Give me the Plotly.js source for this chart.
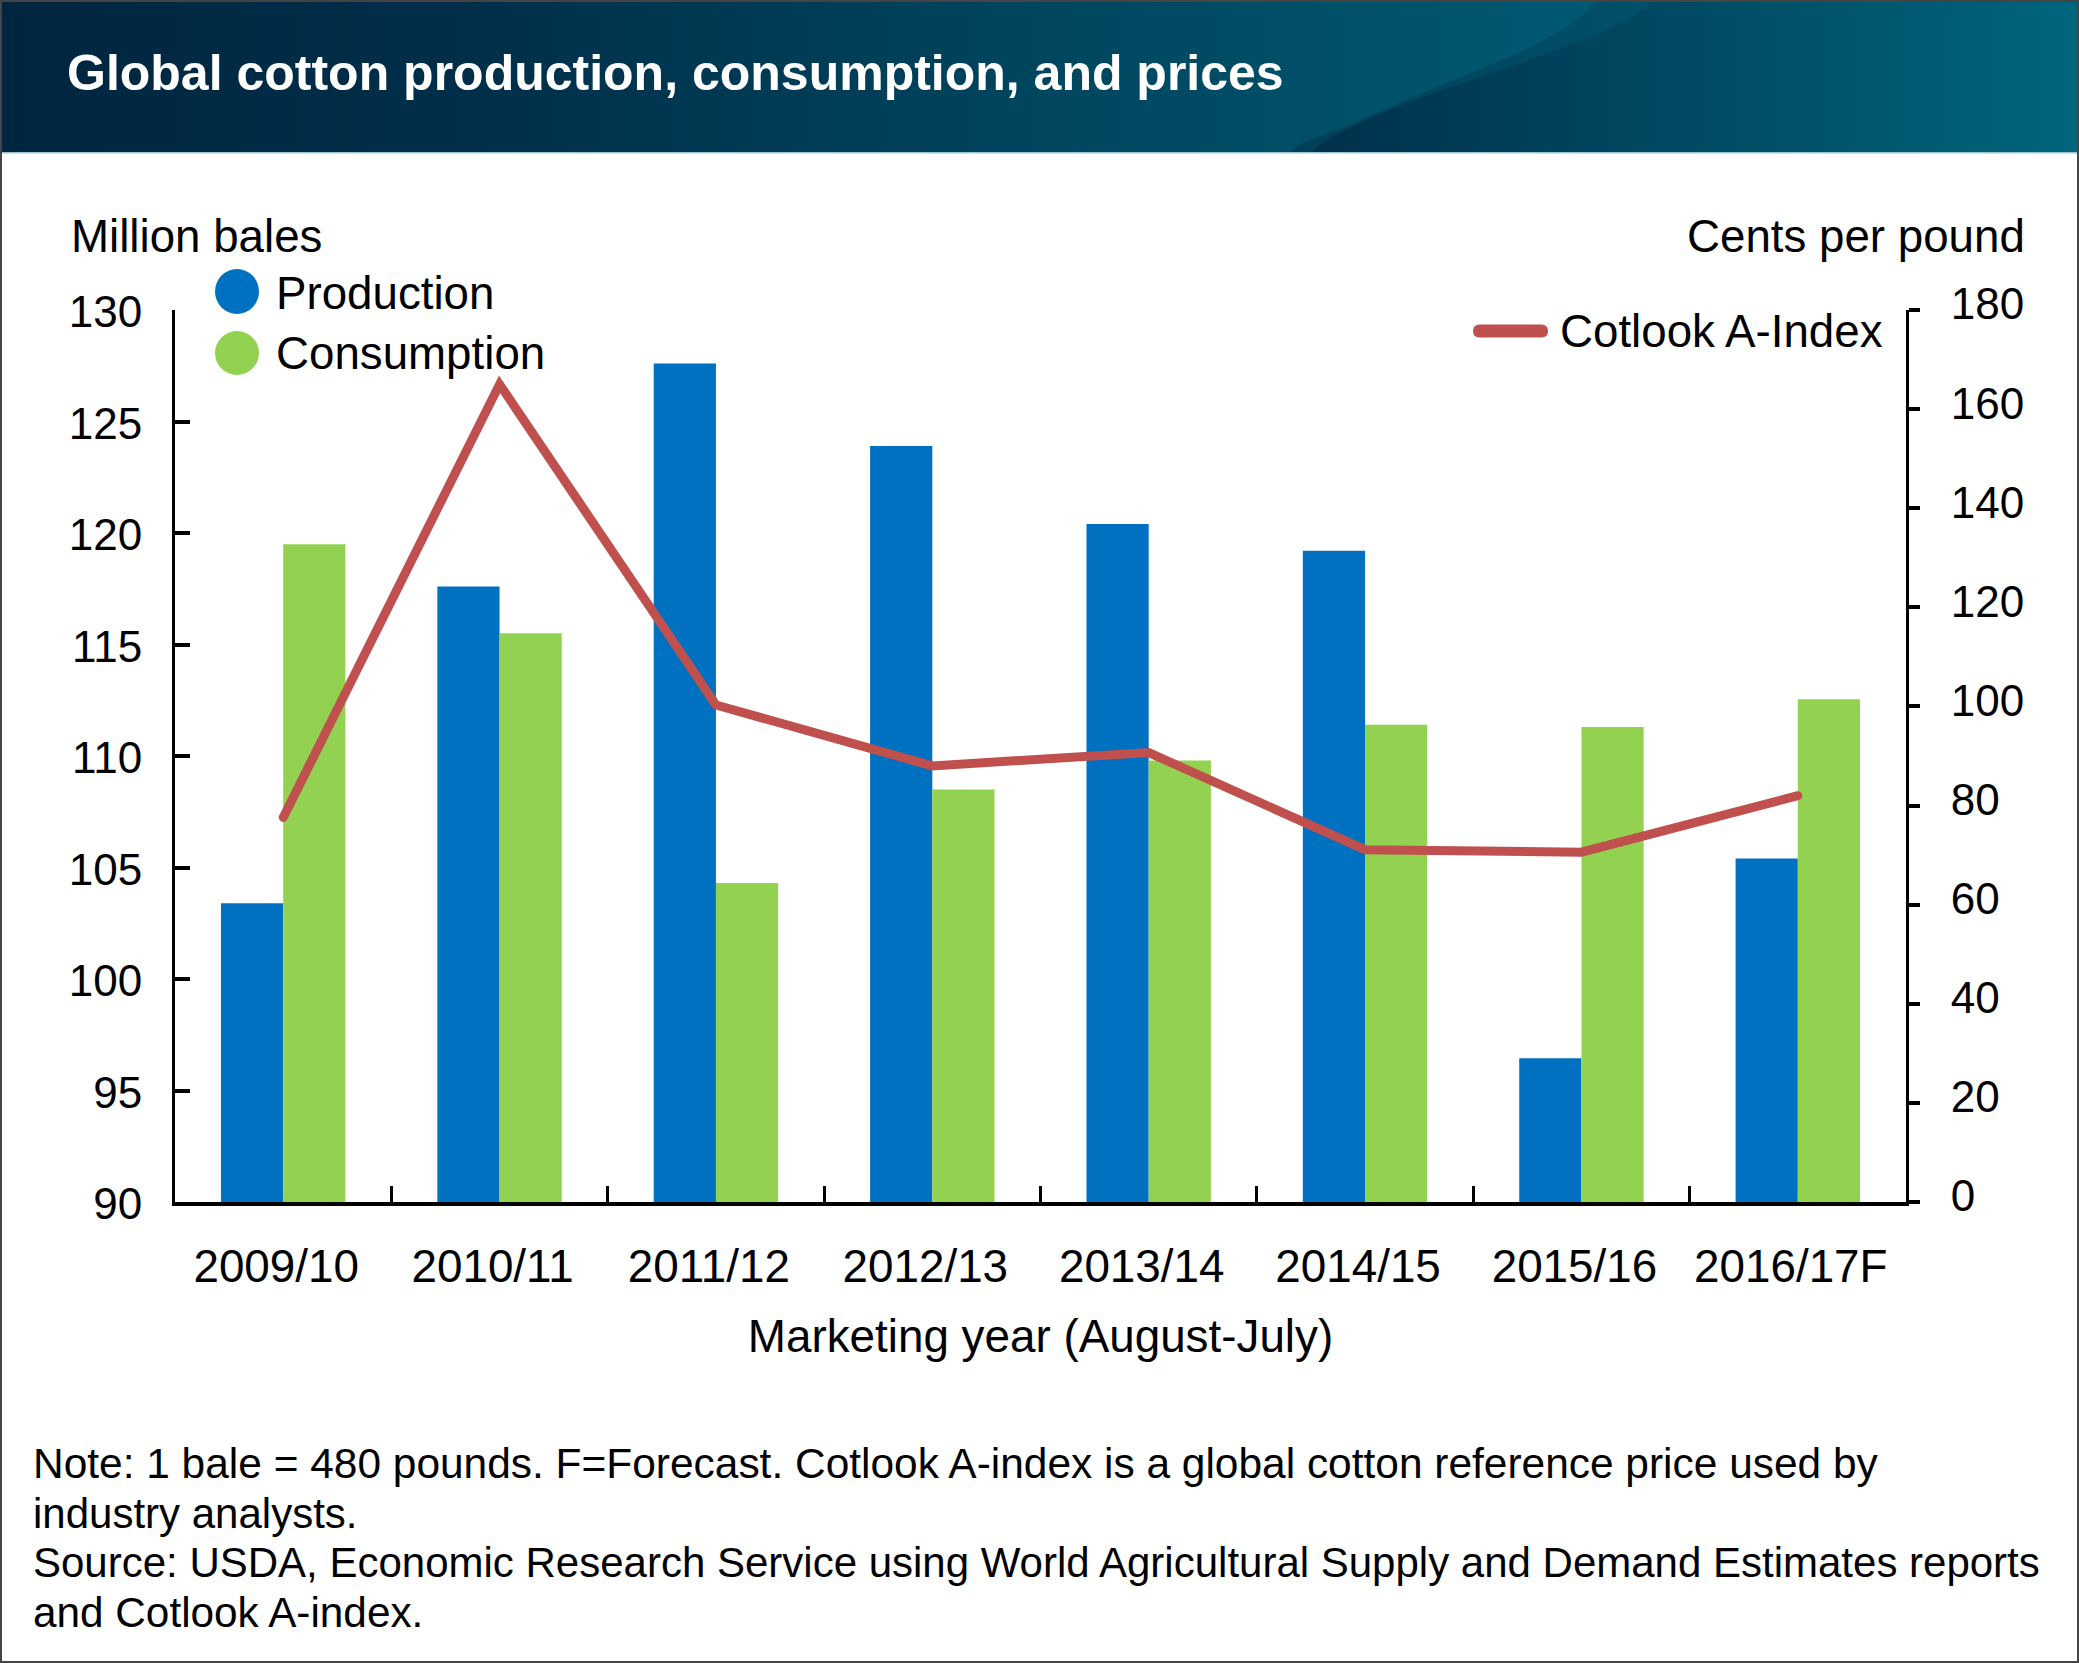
<!DOCTYPE html>
<html>
<head>
<meta charset="utf-8">
<script src="https://cdn.plot.ly/plotly-3.0.1.min.js"></script>
<style>
html,body{margin:0;padding:0;background:#fff;}
#wrap{position:relative;width:2079px;height:1663px;overflow:hidden;background:#fff;}
#banner{position:absolute;left:0;top:0;}
#chart{position:absolute;left:0;top:0;width:2079px;height:1663px;}
#frame{position:absolute;left:0;top:0;width:2075px;height:1659px;border:2px solid #444;pointer-events:none;}
#chart .js-line{stroke-linecap:round;}
</style>
</head>
<body>
<div id="wrap">
<svg id="banner" width="2079" height="154" xmlns="http://www.w3.org/2000/svg">
  <defs>
    <linearGradient id="g" gradientUnits="userSpaceOnUse" x1="0" x2="1620" y1="0" y2="0">
      <stop offset="0" stop-color="#00253f"/>
      <stop offset="0.3" stop-color="#002f4a"/>
      <stop offset="0.65" stop-color="#00465f"/>
      <stop offset="1" stop-color="#005a72"/>
    </linearGradient>
    <linearGradient id="g2" gradientUnits="userSpaceOnUse" x1="1290" x2="1650" y1="0" y2="0">
      <stop offset="0" stop-color="#003e58"/>
      <stop offset="1" stop-color="#00506a"/>
    </linearGradient>
    <linearGradient id="g3" gradientUnits="userSpaceOnUse" x1="1314" x2="2079" y1="0" y2="0">
      <stop offset="0" stop-color="#00304c"/>
      <stop offset="0.4" stop-color="#00465f"/>
      <stop offset="1" stop-color="#00657b"/>
    </linearGradient>
  </defs>
  <rect x="0" y="0" width="2079" height="152" fill="url(#g)"/>
  <path d="M1596 0 C1570 40 1470 70 1372 115 C1330 135 1300 140 1291 152 L1700 152 L1700 0 Z" fill="url(#g2)"/>
  <path d="M1652 0 C1625 35 1500 65 1372 117 C1345 130 1320 140 1314 152 L2079 152 L2079 0 Z" fill="url(#g3)"/>
  <rect x="0" y="152" width="2079" height="1.5" fill="#9cc4d0"/>
</svg>
<div id="chart"></div>
<div id="frame"></div>
</div>
<script>
var categories = ["2009/10","2010/11","2011/12","2012/13","2013/14","2014/15","2015/16","2016/17F"];
var production = [103.4,117.6,127.6,123.9,120.4,119.2,96.45,105.4];
var consumption = [119.5,115.5,104.3,108.5,109.8,111.4,111.3,112.55];
var cotlook = [77.6,165,100.3,88,90.7,71.1,70.6,82];
var leftTicks = [90,95,100,105,110,115,120,125,130];
var rightTicks = [0,20,40,60,80,100,120,140,160,180];
var colors = {production:"#0070C0", consumption:"#92D250", line:"#C0504D"};
var FONT = "Liberation Sans, Arial, Helvetica, sans-serif";

var W=2079,H=1663,L=175,R=1906,T=310,B=1202;
function px(x){return (x-L)/(R-L);}
function py(y){return 1-(y-T)/(B-T);}
function label(text,x,y,anchor,size,color){
  return {text:text,xref:"paper",yref:"paper",x:px(x),y:py(y),xanchor:anchor,yanchor:"middle",
          showarrow:false,font:{family:FONT,size:size,color:color||"#000"},align:"left",borderpad:0,borderwidth:0};
}
function roundedBar(x0,x1,yc,h){
  var r=h/2;
  return "M"+px(x0+r)+","+py(yc-r)+" L"+px(x1-r)+","+py(yc-r)+
         " Q"+px(x1)+","+py(yc-r)+" "+px(x1)+","+py(yc)+
         " Q"+px(x1)+","+py(yc+r)+" "+px(x1-r)+","+py(yc+r)+
         " L"+px(x0+r)+","+py(yc+r)+
         " Q"+px(x0)+","+py(yc+r)+" "+px(x0)+","+py(yc)+
         " Q"+px(x0)+","+py(yc-r)+" "+px(x0+r)+","+py(yc-r)+" Z";
}

var traces = [
  {type:"bar",name:"Production",x:categories,y:production,marker:{color:colors.production},xaxis:"x",yaxis:"y",hoverinfo:"x+y"},
  {type:"bar",name:"Consumption",x:categories,y:consumption,marker:{color:colors.consumption},xaxis:"x",yaxis:"y",hoverinfo:"x+y"},
  {type:"scatter",mode:"lines",name:"Cotlook A-Index",x:categories,y:cotlook,xaxis:"x",yaxis:"y2",
   line:{color:colors.line,width:9,shape:"linear"},hoverinfo:"x+y"}
];

var layout = {
  width:W,height:H,
  paper_bgcolor:"rgba(0,0,0,0)",plot_bgcolor:"rgba(0,0,0,0)",
  margin:{l:L,r:W-R,t:T,b:H-B,pad:0},
  showlegend:false,
  barmode:"group",bargap:0.425,bargroupgap:0,
  font:{family:FONT,size:46,color:"#000"},
  title:{text:"<b>Global cotton production, consumption, and prices</b>",font:{family:FONT,size:50,color:"#fff"},
         x:67/W,xanchor:"left",xref:"container",y:1-72/H,yanchor:"middle",yref:"container"},
  xaxis:{type:"category",categoryorder:"array",categoryarray:categories,range:[-0.5,7.5],
         showline:true,linecolor:"#000",linewidth:4,showgrid:false,zeroline:false,
         ticks:"inside",tickson:"boundaries",ticklen:16,tickwidth:3,tickcolor:"#000",
         tickfont:{family:FONT,size:45.8},ticklabelshift:-7,ticklabelstandoff:21,
         title:{text:"Marketing year (August-July)",font:{family:FONT,size:45.8},standoff:30}},
  yaxis:{range:[90,130],tickmode:"array",tickvals:leftTicks,ticktext:leftTicks.map(String),
         showline:true,linecolor:"#000",linewidth:3,showgrid:false,zeroline:false,
         ticks:"inside",ticklen:15,tickwidth:4,tickcolor:"#000",
         tickfont:{family:FONT,size:44},ticklabelshift:2,ticklabelstandoff:21},
  yaxis2:{overlaying:"y",side:"right",anchor:"x",range:[0,180],tickmode:"array",tickvals:rightTicks,ticktext:rightTicks.map(String),
         showline:true,linecolor:"#000",linewidth:3,showgrid:false,zeroline:false,
         ticks:"outside",ticklen:11,tickwidth:4,tickcolor:"#000",
         tickfont:{family:FONT,size:44},ticklabelshift:-6,ticklabelstandoff:22},
  shapes:[
    {type:"circle",xref:"paper",yref:"paper",x0:px(215),x1:px(259),y0:py(269),y1:py(314),fillcolor:colors.production,line:{width:0}},
    {type:"circle",xref:"paper",yref:"paper",x0:px(215),x1:px(259),y0:py(331),y1:py(375),fillcolor:colors.consumption,line:{width:0}},
    {type:"path",xref:"paper",yref:"paper",path:roundedBar(1473,1548,331,13),fillcolor:colors.line,line:{width:0}}
  ],
  annotations:[
    label("Million bales",71,236,"left",45.7),
    label("Cents per pound",2025,236,"right",45.7),
    label("Production",276,293,"left",45.7),
    label("Consumption",276,353,"left",45.7),
    label("Cotlook A-Index",1560,332,"left",45.7),
    label("Note: 1 bale = 480 pounds. F=Forecast. Cotlook A-index is a global cotton reference price used by",33,1463,"left",42.45),
    label("industry analysts.",33,1513,"left",42),
    label("Source: USDA, Economic Research Service using World Agricultural Supply and Demand Estimates reports",33,1562,"left",42),
    label("and Cotlook A-index.",33,1612,"left",42.3)
  ]
};
Plotly.newPlot("chart",traces,layout,{displayModeBar:false,responsive:false});
</script>
</body>
</html>
